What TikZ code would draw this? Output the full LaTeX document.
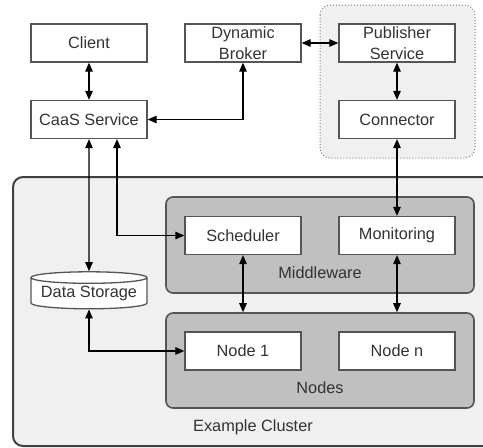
\documentclass[tikz,border=0pt]{standalone}
\usepackage{fontspec}
\setmainfont{Liberation Sans}
\usetikzlibrary{arrows.meta, positioning, shapes.geometric, calc}
\definecolor{cink}{HTML}{333333}
\definecolor{cline}{HTML}{555555}
\definecolor{cpanel}{HTML}{C0C0C0}
\definecolor{cback}{HTML}{F0F0F0}
\tikzset{
  every picture/.style={font=\fontsize{16.3}{20.5}\selectfont, line width=1.3pt, x=1pt, y=-1pt},
  box/.style={draw=cline, fill=white, align=center, text=cink, minimum width=116pt, minimum height=38pt, inner sep=0pt},
  panel/.style={draw=cline, fill=cpanel, rounded corners=7pt, line width=1.6pt, minimum width=308pt, minimum height=#1, inner sep=0pt},
  store/.style={cylinder, shape border rotate=90, aspect=0.12, draw=cline, fill=white, text=cink, minimum width=116pt, minimum height=37pt, inner sep=0pt},
  link/.style={{Triangle[length=9pt, width=7.5pt]}-{Triangle[length=9pt, width=7.5pt]}, draw=black, line width=1.2pt},
  label/.style={text=cink},
}

\begin{document}
\begin{tikzpicture}
  \useasboundingbox (0,0) rectangle (483,448);
  \clip (0,0) rectangle (483,448);
  % backgrounds
  \draw[draw=black!75, fill=cback, rounded corners=10pt, line width=2pt] (13,177) rectangle (500,446);
  \draw[draw=gray, fill=cback, rounded corners=10pt, dotted, line width=1pt] (320,5) rectangle (475,158);
  \node[panel=96pt] (mwpanel) at (320,245) {};
  \node[panel=95pt] (nodepanel) at (320,360.5) {};
  \node[label] at (320,273) {Middleware};
  \node[label] at (320,388) {Nodes};
  \node[label] at (253,427) {Example Cluster};
  % service boxes
  \node[box] (client) at (89,43) {Client};
  \node[box] (broker) at (243,43) {Dynamic\\Broker};
  \node[box] (publisher) at (397,43) {Publisher\\Service};
  \node[box] (caas) at (89,119.5) {CaaS Service};
  \node[box] (connector) at (397,119.5) {Connector};
  \node[box] (scheduler) at (243,235.5) {Scheduler};
  \node[box] (monitoring) at (397,235.5) {Monitoring};
  \node[box] (node1) at (243,351) {Node 1};
  \node[box] (noden) at (397,351) {Node n};
  \node[store] (storage) at (89,293.5) {Data Storage};
  % links
  \draw[link] (client) -- (caas);
  \draw[link] (caas.east) -| (broker.south);
  \draw[link] (broker) -- (publisher);
  \draw[link] (publisher) -- (connector);
  \draw[link] (connector) -- (monitoring);
  \draw[link] (caas.south) -- (storage.north);
  \draw[link] ([xshift=28pt]caas.south) |- (scheduler.west);
  \draw[link] (scheduler.south) -- (scheduler.south |- nodepanel.north);
  \draw[link] (monitoring.south) -- (monitoring.south |- nodepanel.north);
  \draw[link] (storage.south) |- (node1.west);
\end{tikzpicture}
\end{document}
